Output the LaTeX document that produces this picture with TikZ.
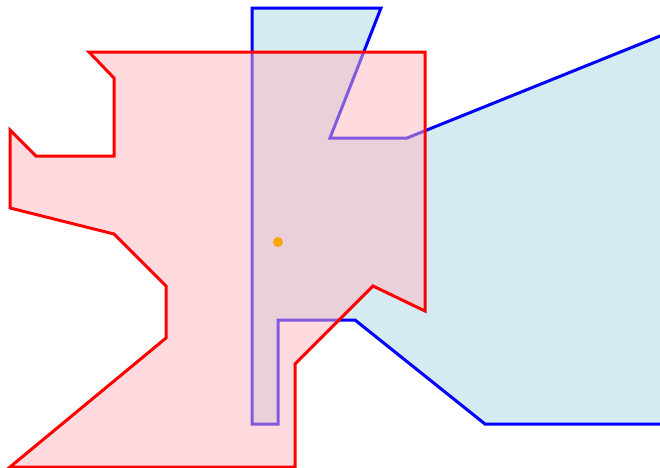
\documentclass[tikz,border=0pt]{standalone}
\definecolor{bluefill}{HTML}{ADD8E6}
\definecolor{redfill}{HTML}{FFB6C1}
\definecolor{dotorange}{HTML}{FFA500}
\tikzset{
  bluepoly/.style={draw=blue, fill=bluefill, fill opacity=0.5, draw opacity=1, line width=3pt, line join=miter},
  redpoly/.style={draw=red, fill=redfill, fill opacity=0.5, draw opacity=1, line width=3pt, line join=miter},
  dot/.style={circle, fill=dotorange, inner sep=0pt, minimum size=10pt}
}
\begin{document}
\begin{tikzpicture}[x=1pt,y=-1pt]
\useasboundingbox (0,0) rectangle (660,467);
\clip (0,0) rectangle (660,467);
\fill[white] (0,0) rectangle (660,467);
\draw[bluepoly] (252,8) -- (381,8) -- (330,138) -- (407,138) -- (700,19.9) -- (700,424) -- (485,424) -- (355,320) -- (278,320) -- (278,424) -- (252,424) -- cycle;
\draw[redpoly] (89,52) -- (425,52) -- (425,311) -- (373,286) -- (295,364) -- (295,467) -- (10,467) -- (166,338) -- (166,286) -- (114,234) -- (10,208) -- (10,130) -- (36,156) -- (114,156) -- (114,78) -- cycle;
\node[dot] (c) at (278,242) {};
\end{tikzpicture}
\end{document}
